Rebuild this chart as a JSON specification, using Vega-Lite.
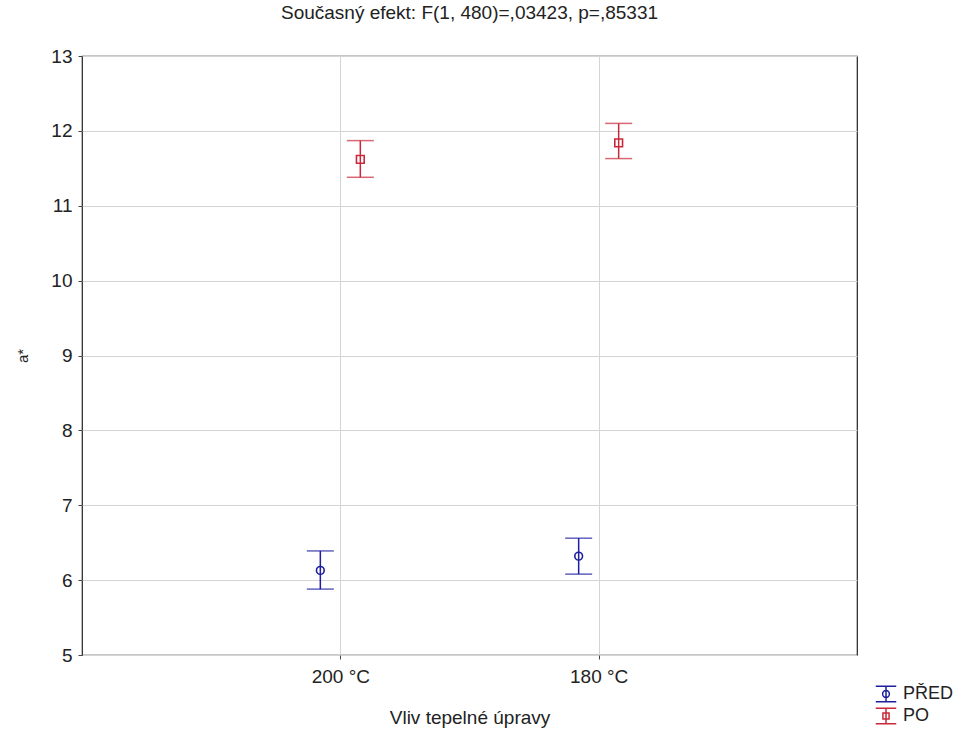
{
  "$schema": "https://vega.github.io/schema/vega-lite/v6.json",
  "width": 775,
  "height": 599,
  "autosize": {"type": "none"},
  "padding": {"left": 82, "top": 56, "right": 121, "bottom": 76},
  "background": "white",
  "title": {"text": "Současný efekt: F(1, 480)=,03423, p=,85331", "font": "Liberation Sans", "fontSize": 19, "fontWeight": "normal", "color": "#222222", "offset": 24},
  "config": {
    "view": {"stroke": "#222222", "strokeWidth": 1.2},
    "font": "Liberation Sans",
    "axis": {"labelFont": "Liberation Sans", "titleFont": "Liberation Sans", "labelColor": "#222222", "titleColor": "#222222", "titleFontWeight": "normal", "gridColor": "#d4d4d4", "gridWidth": 1, "domain": false, "tickColor": "#444444", "tickSize": 4},
    "legend": {"labelFont": "Liberation Sans"}
  },
  "data": {"values": [
    {"teplota": "200 °C", "skupina": "PŘED", "mean": 6.13, "lo": 5.88, "hi": 6.39},
    {"teplota": "180 °C", "skupina": "PŘED", "mean": 6.32, "lo": 6.08, "hi": 6.56},
    {"teplota": "200 °C", "skupina": "PO", "mean": 11.62, "lo": 11.38, "hi": 11.87},
    {"teplota": "180 °C", "skupina": "PO", "mean": 11.84, "lo": 11.63, "hi": 12.10}
  ]},
  "encoding": {
    "x": {"field": "teplota", "type": "nominal", "sort": ["200 °C", "180 °C"],
      "scale": {"type": "point", "padding": 1},
      "axis": {"title": "Vliv tepelné úpravy", "labelAngle": 0, "labelFontSize": 19, "titleFontSize": 19, "labelPadding": 8, "titlePadding": 22, "grid": true}},
    "xOffset": {"field": "skupina", "type": "nominal", "scale": {"type": "point", "padding": 0, "domain": ["PŘED", "PO"], "range": [-20, 20]}},
    "color": {"field": "skupina", "type": "nominal", "scale": {"domain": ["PŘED", "PO"], "range": ["#1e1ea0", "#c8283a"]},
      "legend": {"title": null, "orient": "none", "legendX": 793, "legendY": 627, "labelFontSize": 18, "labelColor": "#222222", "symbolStrokeWidth": 1.5, "rowPadding": 0, "symbolSize": 420, "symbolFillColor": "transparent", "symbolOpacity": 1, "labelOffset": 6,
        "encode": {"symbols": {"update": {"fill": {"value": "transparent"}, "fillOpacity": {"value": 0}}}}}}
  },
  "layer": [
    {"mark": {"type": "rule", "strokeWidth": 1.5},
     "encoding": {"y": {"field": "lo", "type": "quantitative", "scale": {"domain": [5, 13], "nice": false, "zero": false},
        "axis": {"title": "a*", "values": [5,6,7,8,9,10,11,12,13], "labelFontSize": 19, "titleFontSize": 15, "labelPadding": 6, "titlePadding": 20, "grid": true}},
       "y2": {"field": "hi"}}},
    {"mark": {"type": "tick", "size": 27, "thickness": 1.5},
     "encoding": {"y": {"field": "lo", "type": "quantitative",
        "axis": {"title": "a*", "values": [5,6,7,8,9,10,11,12,13], "labelFontSize": 19, "titleFontSize": 15, "labelPadding": 6, "titlePadding": 20, "grid": true}}}},
    {"mark": {"type": "tick", "size": 27, "thickness": 1.5},
     "encoding": {"y": {"field": "hi", "type": "quantitative",
        "axis": {"title": "a*", "values": [5,6,7,8,9,10,11,12,13], "labelFontSize": 19, "titleFontSize": 15, "labelPadding": 6, "titlePadding": 20, "grid": true}}}},
    {"transform": [{"filter": "datum.skupina === 'PŘED'"}],
     "mark": {"type": "point", "filled": false, "strokeWidth": 1.6, "size": 60, "opacity": 1, "shape": "circle"},
     "encoding": {"y": {"field": "mean", "type": "quantitative",
        "axis": {"title": "a*", "values": [5,6,7,8,9,10,11,12,13], "labelFontSize": 19, "titleFontSize": 15, "labelPadding": 6, "titlePadding": 20, "grid": true}}}},
    {"transform": [{"filter": "datum.skupina === 'PO'"}],
     "mark": {"type": "point", "filled": false, "strokeWidth": 1.6, "size": 60, "opacity": 1, "shape": "square"},
     "encoding": {"y": {"field": "mean", "type": "quantitative",
        "axis": {"title": "a*", "values": [5,6,7,8,9,10,11,12,13], "labelFontSize": 19, "titleFontSize": 15, "labelPadding": 6, "titlePadding": 20, "grid": true}}}},
    {"mark": {"type": "point", "filled": false, "strokeWidth": 1.5, "opacity": 0},
     "encoding": {"y": {"field": "mean", "type": "quantitative",
        "axis": {"title": "a*", "values": [5,6,7,8,9,10,11,12,13], "labelFontSize": 19, "titleFontSize": 15, "labelPadding": 6, "titlePadding": 20, "grid": true}},
       "shape": {"field": "skupina", "type": "nominal", "scale": {"domain": ["PŘED", "PO"], "range": ["M-1,-0.75H1M-1,0.75H1M0,-0.75V0.75M-0.33,0A0.33,0.33 0 1,0 0.33,0A0.33,0.33 0 1,0 -0.33,0", "M-1,-0.75H1M-1,0.75H1M0,-0.75V0.75M-0.3,-0.3H0.3V0.3H-0.3Z"]},
        "legend": {"title": null, "orient": "none", "legendX": 793, "legendY": 627, "labelFontSize": 18, "labelColor": "#222222", "symbolStrokeWidth": 1.5, "rowPadding": 0, "symbolSize": 420, "symbolFillColor": "transparent", "symbolOpacity": 1, "labelOffset": 6,
          "encode": {"symbols": {"update": {"fill": {"value": "transparent"}, "fillOpacity": {"value": 0}}}}}}}}
  ]
}
